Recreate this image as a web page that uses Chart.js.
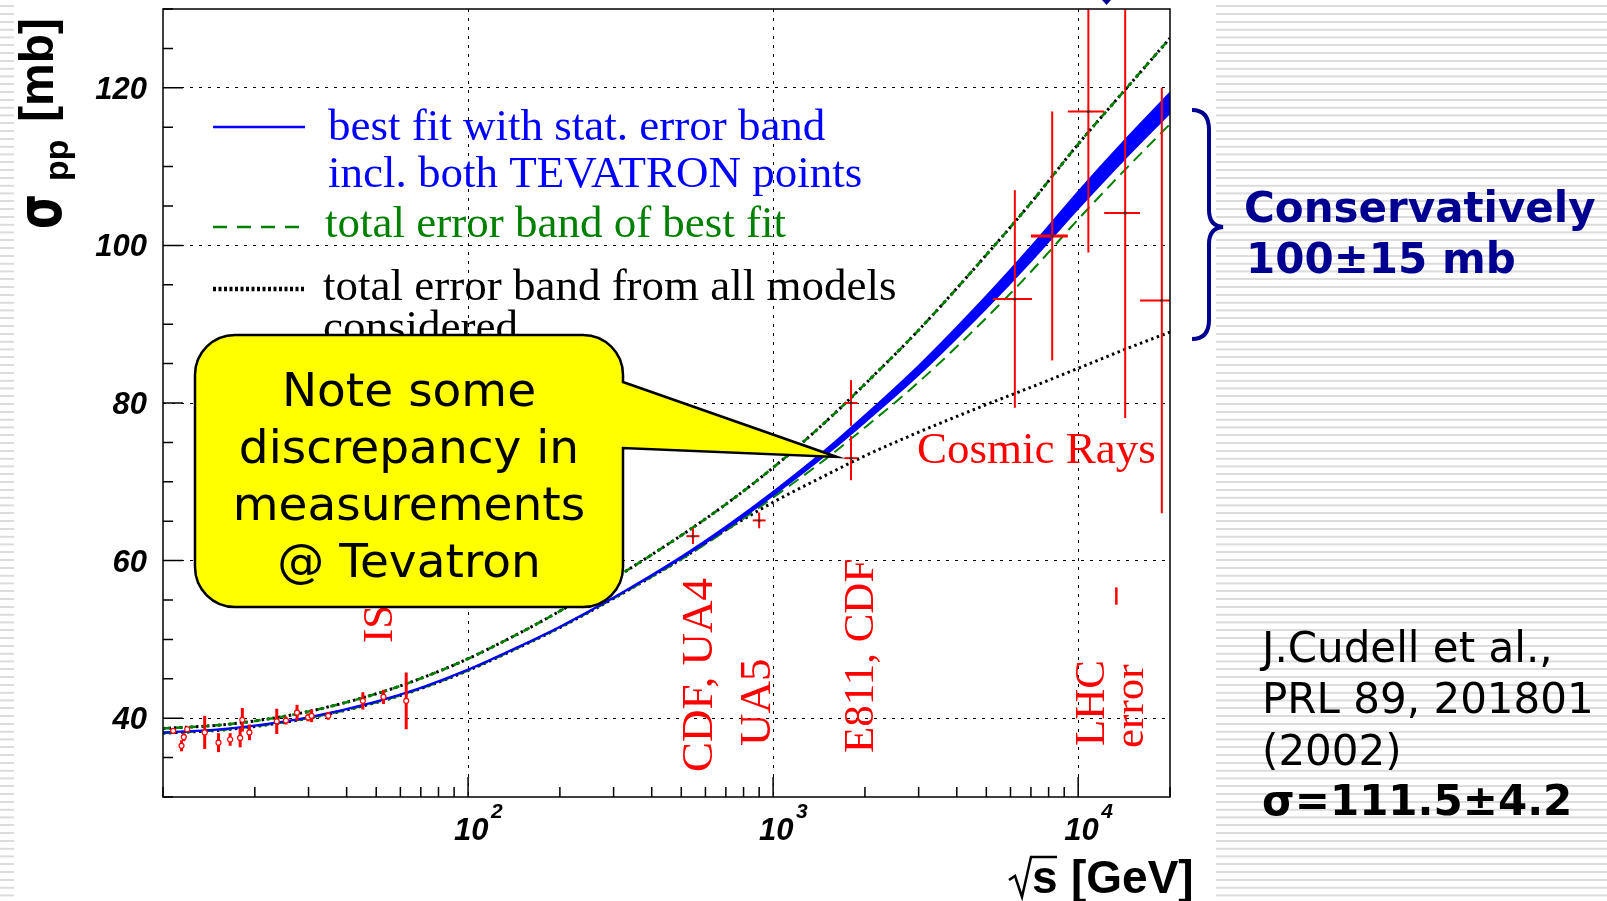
<!DOCTYPE html>
<html>
<head>
<meta charset="utf-8">
<title>Total pp cross section</title>
<script src="https://cdn.jsdelivr.net/npm/chart.js@4.4.1/dist/chart.umd.min.js"></script>
<style>
  html, body { margin: 0; padding: 0; }
  body {
    width: 1607px; height: 901px; overflow: hidden; position: relative;
    background: repeating-linear-gradient(180deg,
      #ffffff 0px, #ffffff 5px, #dcdcdc 5.5px, #dcdcdc 7px, #ffffff 7.5px, #ffffff 7.8px);
  }
  #page { position: absolute; left: 14px; top: 0; width: 1202px; height: 901px; background: #fff; }
  canvas { position: absolute; left: 0; top: 0; }
</style>
</head>
<body>
<div id="page"></div>
<canvas id="xsec" width="1607" height="901"></canvas>
<script>
// sqrt(s) in GeV where the fitted curves are sampled
const energies = [10, 15, 20, 30, 50, 70, 100, 150, 200, 300, 500, 700, 1000, 1500, 2000, 3000, 5000, 7000, 10000, 14000, 20000];
// best fit: upper and lower edge of the statistical error band (mb)
const fitHigh = [38.25, 38.6, 39.1, 40.15, 42.15, 43.9, 46.2, 49.3, 51.65, 55.35, 60.52, 64.33, 68.75, 74.2, 78.45, 84.75, 93.6, 99.85, 106.85, 113.1, 119.4];
const fitLow  = [38.15, 38.5, 39.0, 40.05, 42.05, 43.8, 46.1, 49.2, 51.55, 55.25, 60.28, 63.97, 68.25, 73.5, 77.55, 83.55, 92.0, 97.95, 104.65, 110.7, 116.8];
// upper edge, the same for the best-fit total band and the all-models band
const bandUpper = [38.7, 39.1, 39.65, 40.85, 43.1, 45.05, 47.55, 50.95, 53.6, 57.7, 63.2, 67.15, 71.8, 77.75, 82.4, 89.25, 98.8, 105.4, 112.85, 119.4, 126.3];
// lower edge of the best-fit total band
const fitTotLower = [38.1, 38.45, 38.95, 40.0, 42.0, 43.75, 46.05, 49.15, 51.5, 55.2, 60.15, 63.8, 68.0, 73.0, 76.9, 82.65, 90.8, 96.65, 103.3, 109.3, 115.4];
// lower edge of the band from all models
const modelsLower = [38.1, 38.45, 38.95, 40.0, 42.0, 43.75, 46.05, 49.15, 51.5, 55.2, 60.2, 63.9, 67.4, 70.9, 73.3, 76.3, 79.8, 82.0, 84.4, 86.7, 89.0];

// fixed target + ISR measurements
const lowE   = [10.8, 11.5, 11.7, 12.0, 13.7, 15.2, 16.6, 17.9, 18.2, 19.2, 23.6, 25.3, 27.5, 29.9, 30.7, 34.8, 45.2, 52.8, 62.7];
const lowSig = [38.4, 36.5, 37.6, 38.6, 38.2, 36.9, 37.3, 37.5, 39.8, 38.2, 39.6, 39.7, 40.7, 40.1, 40.3, 40.3, 42.2, 42.7, 42.2];
const lowErr = [0.3, 0.7, 0.5, 0.3, 2.1, 1.2, 0.8, 1.2, 1.5, 1.0, 1.6, 0.5, 1.0, 0.5, 0.8, 0.5, 1.1, 0.9, 3.6];
// SppS and Tevatron (UA4/CDF 546, UA5 900, E811 + CDF 1800)
const colE   = [546, 900, 1800, 1800];
const colSig = [63.1, 65.1, 80.0, 73.0];
const colErr = [1.0, 1.0, 2.9, 2.8];
// cosmic rays, with energy ranges
const crE    = [6200, 8220, 10800, 14260, 18800];
const crSig  = [93.2, 101.2, 117.0, 104.1, 93.0];
const crErr  = [13.8, 15.8, 17.9, 26.0, 27.0];
const crELo  = [5260, 7000, 9250, 12170, 15950];
const crEHi  = [7060, 9250, 12170, 15950, 21500];
// expected LHC error
const lhcE = [13340], lhcSig = [55.5], lhcErr = [1.1];

// axis ticks
const xTicks = [10, 20, 30, 40, 50, 60, 70, 80, 90, 100, 200, 300, 400, 500, 600, 700, 800, 900,
  1000, 2000, 3000, 4000, 5000, 6000, 7000, 8000, 9000, 10000, 20000];
const xDecades = [100, 1000, 10000];
const yLabels = [40, 60, 80, 100, 120];

const BLUE = '#0000ff', GREEN = '#008000', RED = '#ff0000', NAVY = '#000090';

const pts = (xs, ys) => xs.map((v, i) => ({ x: v, y: ys[i] }));

function errorBars(chart) {
  const { ctx, chartArea: a, scales: { x, y } } = chart;
  ctx.save();
  ctx.beginPath();
  ctx.rect(a.left, a.top, a.right - a.left, a.bottom - a.top);
  ctx.clip();
  ctx.strokeStyle = RED;
  const vbar = (e, s, d, w) => {
    const px = x.getPixelForValue(e);
    ctx.lineWidth = w;
    ctx.beginPath();
    ctx.moveTo(px, y.getPixelForValue(s - d));
    ctx.lineTo(px, y.getPixelForValue(s + d));
    ctx.stroke();
  };
  const hbar = (lo, hi, s, w) => {
    const py = y.getPixelForValue(s);
    ctx.lineWidth = w;
    ctx.beginPath();
    ctx.moveTo(x.getPixelForValue(lo), py);
    ctx.lineTo(x.getPixelForValue(hi), py);
    ctx.stroke();
  };
  lowE.forEach((e, i) => vbar(e, lowSig[i], lowErr[i], 3));
  colE.forEach((e, i) => {
    vbar(e, colSig[i], colErr[i], 2);
    hbar(e / 1.05, e * 1.05, colSig[i], 2);
  });
  crE.forEach((e, i) => {
    vbar(e, crSig[i], crErr[i], 2);
    hbar(crELo[i], crEHi[i], crSig[i], i === 1 ? 3 : 2);
  });
  lhcE.forEach((e, i) => vbar(e, lhcSig[i], lhcErr[i], 2.5));
  ctx.restore();
}

function vText(ctx, text, xBase, yStart) {
  ctx.save();
  ctx.translate(xBase, yStart);
  ctx.rotate(-Math.PI / 2);
  ctx.fillText(text, 0, 0);
  ctx.restore();
}

function drawAxes(chart) {
  const { ctx, chartArea: a, scales: { x, y } } = chart;
  ctx.save();
  ctx.strokeStyle = '#000';
  ctx.lineWidth = 1.5;
  ctx.strokeRect(a.left, a.top, a.right - a.left, a.bottom - a.top);
  ctx.beginPath();
  y.ticks.forEach(t => {
    const py = y.getPixelForValue(t.value);
    const len = t.value % 20 === 0 ? 20 : 10;
    ctx.moveTo(a.left, py);
    ctx.lineTo(a.left + len, py);
  });
  x.ticks.forEach(t => {
    const px = x.getPixelForValue(t.value);
    const len = xDecades.includes(t.value) ? 20 : 10;
    ctx.moveTo(px, a.bottom);
    ctx.lineTo(px, a.bottom - len);
  });
  ctx.stroke();

  ctx.fillStyle = '#000';
  ctx.font = 'italic bold 31px "Liberation Sans"';
  ctx.textAlign = 'right';
  ctx.textBaseline = 'alphabetic';
  yLabels.forEach(v => ctx.fillText(String(v), a.left - 16, y.getPixelForValue(v) + 11));
  ctx.textAlign = 'left';
  xDecades.forEach(v => {
    const px = x.getPixelForValue(v);
    ctx.font = 'italic bold 31px "Liberation Sans"';
    ctx.fillText('10', px - 14, a.bottom + 43);
    ctx.font = 'italic bold 21px "Liberation Sans"';
    ctx.fillText(String(Math.round(Math.log10(v))), px + 23, a.bottom + 21);
  });

  // y title: sigma_pp [mb]
  ctx.save();
  ctx.translate(61, 229);
  ctx.rotate(-Math.PI / 2);
  ctx.scale(0.9, 1.25);
  ctx.font = 'bold 50px "DejaVu Sans"';
  ctx.fillText('σ', 0, 0);
  ctx.restore();
  ctx.font = 'bold 34px "Liberation Sans"';
  vText(ctx, 'pp', 68, 181);
  ctx.font = 'bold 48px "Liberation Sans"';
  vText(ctx, '[mb]', 53, 122);

  // x title: sqrt(s) [GeV]
  ctx.lineWidth = 2.5;
  ctx.beginPath();
  ctx.moveTo(1009, 880);
  ctx.lineTo(1015, 876);
  ctx.lineTo(1022, 897);
  ctx.lineTo(1031, 857);
  ctx.lineTo(1057, 857);
  ctx.stroke();
  ctx.font = 'bold 46px "Liberation Sans"';
  ctx.fillText('s', 1032, 893);
  ctx.fillText('[GeV]', 1071, 893);
  ctx.restore();
}

function drawLegend(ctx) {
  ctx.save();
  ctx.lineWidth = 2.5;
  ctx.strokeStyle = BLUE;
  ctx.beginPath(); ctx.moveTo(213, 127); ctx.lineTo(305, 127); ctx.stroke();
  ctx.strokeStyle = GREEN;
  ctx.setLineDash([14, 10]);
  ctx.beginPath(); ctx.moveTo(213, 227); ctx.lineTo(305, 227); ctx.stroke();
  ctx.strokeStyle = '#000';
  ctx.lineWidth = 4.5;
  ctx.setLineDash([3, 2.5]);
  ctx.beginPath(); ctx.moveTo(213, 289); ctx.lineTo(305, 289); ctx.stroke();
  ctx.setLineDash([]);

  ctx.font = '45px "Liberation Serif"';
  ctx.textAlign = 'left';
  ctx.fillStyle = BLUE;
  ctx.fillText('best fit with stat. error band', 328, 140);
  ctx.fillText('incl. both TEVATRON points', 328, 187);
  ctx.fillStyle = GREEN;
  ctx.fillText('total error band of best fit', 325, 237);
  ctx.fillStyle = '#000';
  ctx.fillText('total error band from all models', 323, 300);
  ctx.fillText('considered', 323, 341);
  ctx.restore();
}

function drawRedLabels(ctx) {
  ctx.save();
  ctx.fillStyle = RED;
  ctx.font = '45px "Liberation Serif"';
  ctx.fillText('Cosmic Rays', 917, 463);
  ctx.font = '43px "Liberation Serif"';
  vText(ctx, 'ISR', 392, 643);
  ctx.font = '45px "Liberation Serif"';
  vText(ctx, 'CDF, UA4', 712, 772);
  vText(ctx, 'UA5', 770, 746);
  ctx.font = '43px "Liberation Serif"';
  vText(ctx, 'E811, CDF', 873, 753);
  vText(ctx, 'LHC', 1104, 746);
  vText(ctx, 'error', 1143, 748);
  ctx.restore();
}

function drawCallout(ctx) {
  const L = 195, T = 335, R = 623, B = 607, r = 40;
  ctx.save();
  ctx.beginPath();
  ctx.moveTo(L + r, T);
  ctx.lineTo(R - r, T);
  ctx.arcTo(R, T, R, T + r, r);
  ctx.lineTo(R, 382);
  ctx.lineTo(837, 457);
  ctx.lineTo(R, 448);
  ctx.lineTo(R, B - r);
  ctx.arcTo(R, B, R - r, B, r);
  ctx.lineTo(L + r, B);
  ctx.arcTo(L, B, L, B - r, r);
  ctx.lineTo(L, T + r);
  ctx.arcTo(L, T, L + r, T, r);
  ctx.closePath();
  ctx.fillStyle = '#ffff00';
  ctx.fill();
  ctx.lineWidth = 2.5;
  ctx.strokeStyle = '#000';
  ctx.lineJoin = 'miter';
  ctx.stroke();

  ctx.fillStyle = '#000';
  ctx.font = '47px "DejaVu Sans"';
  ctx.textAlign = 'center';
  ['Note some', 'discrepancy in', 'measurements', '@ Tevatron']
    .forEach((s, i) => ctx.fillText(s, 409, 406 + i * 57));
  ctx.restore();
}

function drawSide(ctx) {
  ctx.save();
  // brace spanning the LHC range
  ctx.strokeStyle = NAVY;
  ctx.lineWidth = 4;
  ctx.beginPath();
  ctx.moveTo(1192, 110);
  ctx.quadraticCurveTo(1209, 110, 1209, 130);
  ctx.lineTo(1209, 210);
  ctx.quadraticCurveTo(1209, 226, 1223, 227);
  ctx.quadraticCurveTo(1209, 228, 1209, 244);
  ctx.lineTo(1209, 320);
  ctx.quadraticCurveTo(1209, 339, 1192, 339);
  ctx.stroke();
  ctx.fillStyle = NAVY;
  ctx.beginPath();
  ctx.moveTo(1102, 0); ctx.lineTo(1111, 0); ctx.lineTo(1106.5, 5); ctx.closePath();
  ctx.fill();

  ctx.font = 'bold 42px "DejaVu Sans"';
  ctx.fillText('Conservatively', 1244, 222);
  ctx.fillText('100±15 mb', 1246, 273);

  ctx.fillStyle = '#000';
  ctx.font = '42px "DejaVu Sans"';
  ctx.fillText('J.Cudell et al.,', 1262, 662);
  ctx.fillText('PRL 89, 201801', 1262, 713);
  ctx.fillText('(2002)', 1262, 765);
  ctx.font = 'bold 42px "DejaVu Sans"';
  ctx.fillText('σ=111.5±4.2', 1262, 815);
  ctx.restore();
}

const overlay = {
  id: 'overlay',
  beforeDatasetDraw(chart, args) {
    // bars go in just before the first marker set is painted
    if (args.index === 2) errorBars(chart);
  },
  afterDraw(chart) {
    const ctx = chart.ctx;
    drawAxes(chart);
    drawLegend(ctx);
    drawRedLabels(ctx);
    drawCallout(ctx);
    drawSide(ctx);
  }
};

const curve = (label, data, color, width, dash, extra) => Object.assign({
  label, data: pts(energies, data), borderColor: color, borderWidth: width,
  borderDash: dash, pointRadius: 0, fill: false, cubicInterpolationMode: 'monotone'
}, extra || {});

new Chart(document.getElementById('xsec'), {
  type: 'line',
  data: {
    datasets: [
      { label: 'fixed target, ISR', data: pts(lowE, lowSig), showLine: false,
        pointRadius: 2.5, pointBorderWidth: 1.2, pointBorderColor: RED, pointBackgroundColor: '#fff' },
      { label: 'collider', data: pts(colE, colSig), showLine: false,
        pointRadius: 1.5, pointBorderWidth: 0, pointBackgroundColor: '#333' },
      { label: 'cosmic rays', data: pts(crE, crSig), showLine: false,
        pointRadius: 1.5, pointBorderWidth: 0, pointBackgroundColor: '#333' },
      curve('fit high', fitHigh, BLUE, 1.6, []),
      curve('fit low', fitLow, BLUE, 1.6, [], { fill: '-1', backgroundColor: BLUE }),
      curve('total band upper', bandUpper, GREEN, 2.5, [7, 6]),
      curve('models upper', bandUpper, '#000', 3, [2.5, 3]),
      curve('total band lower', fitTotLower, GREEN, 2, [12, 7]),
      curve('models lower', modelsLower, '#000', 3, [2.5, 3.5])
    ]
  },
  options: {
    responsive: false,
    devicePixelRatio: 1,
    animation: false,
    events: [],
    layout: { padding: { left: 163, top: 9, right: 437, bottom: 104 } },
    plugins: { legend: { display: false }, tooltip: { enabled: false } },
    scales: {
      x: {
        type: 'logarithmic', min: 10, max: 20000,
        afterBuildTicks: s => { s.ticks = xTicks.map(v => ({ value: v })); },
        afterFit: s => { s.height = 0; },
        ticks: { display: false },
        grid: { drawTicks: false, lineWidth: 1,
          color: c => xDecades.includes(c.tick && c.tick.value) ? '#000' : 'rgba(0,0,0,0)' },
        border: { display: false, dash: [3, 6] }
      },
      y: {
        type: 'linear', min: 30, max: 130,
        ticks: { display: false, stepSize: 5 },
        afterFit: s => { s.width = 0; },
        grid: { drawTicks: false, lineWidth: 1,
          color: c => (c.tick && yLabels.includes(c.tick.value)) ? '#000' : 'rgba(0,0,0,0)' },
        border: { display: false, dash: [3, 6] }
      }
    }
  },
  plugins: [overlay]
});
</script>
</body>
</html>
